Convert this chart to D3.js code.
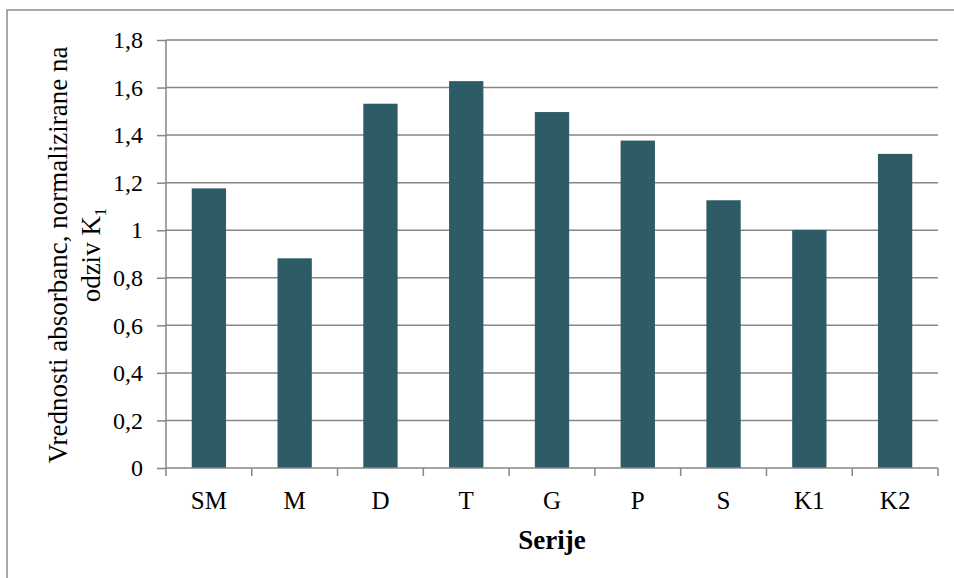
<!DOCTYPE html>
<html><head><meta charset="utf-8">
<script src="https://cdn.jsdelivr.net/npm/d3@7"></script>
<style>body{margin:0;background:#fff}svg{display:block}</style>
</head><body>
<script>
const categories = ["SM","M","D","T","G","P","S","K1","K2"];
const values = [1.176, 0.882, 1.532, 1.627, 1.497, 1.377, 1.126, 1.001, 1.321];
const yTicks = [0,0.2,0.4,0.6,0.8,1,1.2,1.4,1.6,1.8];
const yTickLabels = ["0","0,2","0,4","0,6","0,8","1","1,2","1,4","1,6","1,8"];

(function(){
const W = 954, H = 578;
const svg = d3.select("body").append("svg").attr("width", W).attr("height", H);
const font = "'Liberation Serif','Times New Roman',serif";

// outer frame
svg.append("rect").attr("x",7).attr("y",10).attr("width",960).attr("height",600)
  .attr("fill","none").attr("stroke","#8c8c8c").attr("stroke-width",1.5);

const pL = 166, pR = 938, pT = 40, pB = 468;
const xb = d3.scaleBand().domain(categories).range([pL, pR]);
const y = d3.scaleLinear().domain([0,1.8]).range([pB, pT]);

// gridlines
svg.append("g").selectAll("line").data(yTicks.slice(1)).join("line")
  .attr("x1", pL).attr("x2", pR).attr("y1", d=>y(d)).attr("y2", d=>y(d))
  .attr("stroke","#868686").attr("stroke-width",1.5);

// bars
svg.append("g").selectAll("rect").data(values).join("rect")
  .attr("x",(d,i)=>xb(categories[i]) + xb.bandwidth()*0.3)
  .attr("width", xb.bandwidth()*0.4)
  .attr("y", d=>y(d)).attr("height", d=>pB - y(d))
  .attr("fill","#2D5C67");

// y axis
const yAxis = d3.axisLeft(y).tickValues(yTicks).tickSize(9).tickPadding(14)
  .tickFormat((d,i)=>yTickLabels[i]);
const gy = svg.append("g").attr("transform",`translate(${pL},0)`).call(yAxis)
  .attr("font-family",font).attr("font-size",24);
gy.select(".domain").attr("stroke","#868686").attr("stroke-width",1.5).attr("d",`M0,${pT}V${pB}`);
gy.selectAll(".tick line").attr("stroke","#868686").attr("stroke-width",1.5);
gy.selectAll(".tick text").attr("fill","#000");

// x axis
const xAxis = d3.axisBottom(xb).tickSize(0).tickPadding(0);
const gx = svg.append("g").attr("transform",`translate(0,${pB})`).call(xAxis)
  .attr("font-family",font).attr("font-size",25);
gx.select(".domain").attr("stroke","#868686").attr("stroke-width",1.5).attr("d",`M${pL},0H${pR}`);
gx.selectAll(".tick text").attr("fill","#000").attr("dy",null).attr("y",41);
// category boundary ticks
const bounds = categories.map(c=>xb(c)).concat([pR]);
svg.append("g").selectAll("line").data(bounds).join("line")
  .attr("x1",d=>d).attr("x2",d=>d).attr("y1",pB).attr("y2",pB+8)
  .attr("stroke","#868686").attr("stroke-width",1.5);

// x title
svg.append("text").attr("x",(pL+pR)/2).attr("y",549).attr("text-anchor","middle")
  .attr("font-family",font).attr("font-size",27).attr("font-weight","bold").text("Serije");

// y title
const cy = 255;
svg.append("text").attr("transform",`translate(67,${cy}) rotate(-90)`).attr("text-anchor","middle")
  .attr("font-family",font).attr("font-size",27).text("Vrednosti absorbanc, normalizirane na");
const t2 = svg.append("text").attr("transform",`translate(100,${cy}) rotate(-90)`).attr("text-anchor","middle")
  .attr("font-family",font).attr("font-size",27);
t2.append("tspan").text("odziv K");
t2.append("tspan").attr("font-size",17).attr("dy",6).text("1");
})();
</script>
</body></html>
